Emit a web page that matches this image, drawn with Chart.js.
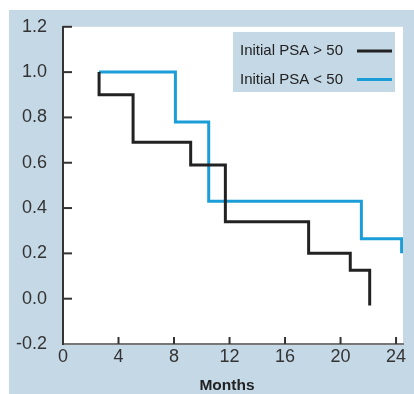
<!DOCTYPE html>
<html>
<head>
<meta charset="utf-8">
<script src="https://cdn.jsdelivr.net/npm/chart.js@4.4.1/dist/chart.umd.min.js"></script>
<style>
    html, body { margin: 0; padding: 0; background: #fff; }
    canvas { display: block; }
</style>
</head>
<body>
<canvas id="kmChart" width="414" height="394"></canvas>
<script>
// Kaplan-Meier style survival
const highMonths = [2.6, 2.6, 5.05, 9.2, 11.7, 17.7, 20.7, 22.1];
const highSurvival = [1.0, 0.9, 0.69, 0.59, 0.34, 0.2, 0.125, -0.03];

const lowMonths = [2.6, 8.1, 10.5, 21.5, 24.4];
const lowSurvival = [1.0, 0.78, 0.43, 0.265, 0.2];

const seriesLabels = ['Initial PSA > 50', 'Initial PSA < 50'];
const seriesColors = ['#222222', '#1b9dd8'];

const xTicks = [0, 4, 8, 12, 16, 20, 24];
const yTicks = [-0.2, 0.0, 0.2, 0.4, 0.6, 0.8, 1.0, 1.2];

const FONT = "'Liberation Sans', Arial, sans-serif";
const PANEL = '#c5d8e6';

function toPoints(xs, ys) {
    return xs.map((x, i) => ({ x: x, y: ys[i] }));
}

// background panel + white plot area
const backdrop = {
    id: 'backdrop',
    beforeDraw(chart) {
        const { ctx, chartArea: a } = chart;
        ctx.save();
        ctx.fillStyle = '#fff';
        ctx.fillRect(0, 0, chart.width, chart.height);
        ctx.fillStyle = PANEL;
        ctx.fillRect(9, 10, chart.width - 9, chart.height - 10);
        ctx.fillStyle = '#fff';
        ctx.fillRect(a.left, a.top, a.right - a.left, a.bottom - a.top);
        ctx.restore();
    }
};

// inward tick marks + legend box
const extras = {
    id: 'extras',
    afterDraw(chart) {
        const { ctx, chartArea: a, scales } = chart;
        ctx.save();
        ctx.strokeStyle = '#333';
        ctx.lineWidth = 2;
        scales.x.ticks.forEach(t => {
            if (t.value === 0) return;
            const px = scales.x.getPixelForValue(t.value);
            ctx.beginPath();
            ctx.moveTo(px, a.bottom);
            ctx.lineTo(px, a.bottom - 7);
            ctx.stroke();
        });
        scales.y.ticks.forEach(t => {
            if (t.value === -0.2) return;
            const py = scales.y.getPixelForValue(t.value);
            ctx.beginPath();
            ctx.moveTo(a.left, py);
            ctx.lineTo(a.left + 9, py);
            ctx.stroke();
        });

        // legend
        ctx.fillStyle = PANEL;
        ctx.fillRect(233, 32, 162, 60);
        ctx.font = '15px ' + FONT;
        ctx.textBaseline = 'middle';
        ctx.textAlign = 'left';
        chart.data.datasets.forEach((ds, i) => {
            const y = 51 + i * 28.5;
            ctx.fillStyle = '#222';
            ctx.fillText(ds.label, 240, y);
            ctx.strokeStyle = ds.borderColor;
            ctx.lineWidth = 3;
            ctx.beginPath();
            ctx.moveTo(357, y);
            ctx.lineTo(392, y);
            ctx.stroke();
        });

        // axis title, sits a little left of the plot centre in the original
        ctx.fillStyle = '#222';
        ctx.font = 'bold 15.5px ' + FONT;
        ctx.textAlign = 'center';
        ctx.fillText('Months', 227, 386);
        ctx.restore();
    }
};

new Chart(document.getElementById('kmChart').getContext('2d'), {
    type: 'line',
    data: {
        datasets: [
            {
                label: seriesLabels[0],
                data: toPoints(highMonths, highSurvival),
                borderColor: seriesColors[0],
                borderWidth: 3,
                stepped: 'before',
                pointRadius: 0,
                fill: false
            },
            {
                label: seriesLabels[1],
                data: toPoints(lowMonths, lowSurvival),
                borderColor: seriesColors[1],
                borderWidth: 3,
                stepped: 'before',
                pointRadius: 0,
                fill: false
            }
        ]
    },
    options: {
        responsive: false,
        animation: false,
        devicePixelRatio: 1,
        layout: { padding: { left: 0, right: 11, top: 21, bottom: 0 } },
        plugins: {
            legend: { display: false },
            tooltip: { enabled: false }
        },
        scales: {
            x: {
                type: 'linear',
                min: 0,
                max: 24.5,
                afterFit: s => { s.height = 50; },
                afterBuildTicks: s => { s.ticks = xTicks.map(v => ({ value: v })); },
                grid: { display: false, drawTicks: false },
                border: { display: true, color: '#777', width: 2 },
                ticks: {
                    padding: 2,
                    color: '#333',
                    font: { family: FONT, size: 18 },
                    maxRotation: 0
                }
            },
            y: {
                min: -0.2,
                max: 1.2,
                afterFit: s => { s.width = 63; },
                afterBuildTicks: s => { s.ticks = yTicks.map(v => ({ value: v })); },
                grid: { display: false, drawTicks: false },
                border: { display: true, color: '#333', width: 2 },
                ticks: {
                    padding: 16,
                    color: '#333',
                    font: { family: FONT, size: 18 },
                    callback: v => Number(v).toFixed(1)
                }
            }
        }
    },
    plugins: [backdrop, extras]
});
</script>
</body>
</html>
